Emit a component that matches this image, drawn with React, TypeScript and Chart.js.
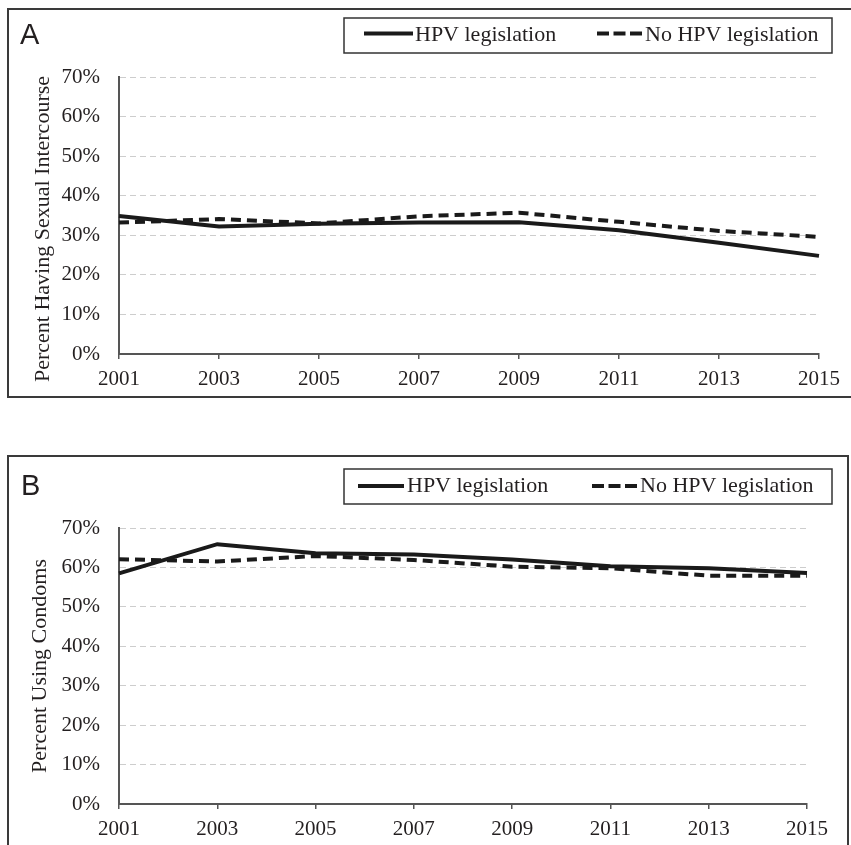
import React, { useEffect, useRef } from 'react';
import { Chart, registerables } from 'chart.js';

Chart.register(...registerables);

// ---- data ----
const years = ['2001', '2003', '2005', '2007', '2009', '2011', '2013', '2015'];
const seriesLabels = ['HPV legislation', 'No HPV legislation'];
const sexHpv = [34.9, 32.2, 32.9, 33.2, 33.3, 31.3, 28.1, 24.8];
const sexNoHpv = [33.2, 34.1, 33.0, 34.8, 35.7, 33.4, 31.1, 29.6];
const condomHpv = [58.5, 65.9, 63.6, 63.3, 62.0, 60.3, 59.8, 58.6];
const condomNoHpv = [62.1, 61.5, 62.9, 61.9, 60.2, 59.8, 57.9, 57.9];
const yMin = 0;
const yMax = 70;
const yStep = 10;

const INK = '#231f20';
const LINE = '#1a1a1a';
const AXIS = '#555555';
const GRID = '#cdcdcd';
const SERIF = "'Liberation Serif', 'Times New Roman', serif";
const SANS = "'Liberation Sans', Arial, sans-serif";

type Decor = {
  letter: string;
  letterX: number;
  letterY: number;
  title: string;
  titleX: number;
  titleY: number;
  box: { x: number; y: number; w: number; h: number };
  lineY: number;
  textY: number;
  items: { x: number; w: number; tx: number; dash: number[] }[];
};

function makeDecor(cfg: Decor) {
  return {
    id: 'panelDecor',
    afterDraw(chart: any) {
      const ctx = chart.ctx as CanvasRenderingContext2D;
      ctx.save();
      ctx.fillStyle = INK;
      ctx.textBaseline = 'alphabetic';
      ctx.textAlign = 'left';
      ctx.font = `29px ${SANS}`;
      ctx.fillText(cfg.letter, cfg.letterX, cfg.letterY);

      ctx.save();
      ctx.translate(cfg.titleX, cfg.titleY);
      ctx.rotate(-Math.PI / 2);
      ctx.font = `22px ${SERIF}`;
      ctx.textAlign = 'center';
      ctx.fillText(cfg.title, 0, 0);
      ctx.restore();

      ctx.strokeStyle = '#333333';
      ctx.lineWidth = 1.5;
      ctx.strokeRect(cfg.box.x, cfg.box.y, cfg.box.w, cfg.box.h);

      chart.data.datasets.forEach((ds: any, i: number) => {
        const it = cfg.items[i];
        ctx.beginPath();
        ctx.setLineDash(it.dash);
        ctx.lineCap = 'butt';
        ctx.lineWidth = ds.borderWidth;
        ctx.strokeStyle = ds.borderColor;
        ctx.moveTo(it.x, cfg.lineY);
        ctx.lineTo(it.x + it.w, cfg.lineY);
        ctx.stroke();
        ctx.setLineDash([]);
        ctx.font = `22px ${SERIF}`;
        ctx.fillStyle = INK;
        ctx.textAlign = 'left';
        ctx.fillText(ds.label, it.tx, cfg.textY);
      });
      ctx.restore();
    },
  };
}

type PanelProps = {
  width: number;
  height: number;
  solid: number[];
  dashed: number[];
  padding: { left: number; right: number; top: number; bottom: number };
  decor: Decor;
};

function Panel({ width, height, solid, dashed, padding, decor }: PanelProps) {
  const ref = useRef<HTMLCanvasElement>(null);
  useEffect(() => {
    if (!ref.current) return;
    const chart = new Chart(ref.current, {
      type: 'line',
      data: {
        labels: years,
        datasets: [
          {
            label: seriesLabels[0],
            data: solid,
            borderColor: LINE,
            borderWidth: 4,
            pointRadius: 0,
            tension: 0,
            fill: false,
          },
          {
            label: seriesLabels[1],
            data: dashed,
            borderColor: LINE,
            borderWidth: 4,
            borderDash: [10, 6],
            pointRadius: 0,
            tension: 0,
            fill: false,
          },
        ],
      },
      options: {
        animation: false,
        responsive: false,
        devicePixelRatio: 1,
        layout: { padding },
        plugins: {
          legend: { display: false },
          title: { display: false },
          tooltip: { enabled: false },
        },
        scales: {
          x: {
            type: 'category',
            offset: false,
            grid: {
              display: true,
              drawOnChartArea: false,
              drawTicks: true,
              tickLength: 5,
              color: AXIS,
              lineWidth: 1.5,
            },
            border: { display: true, color: AXIS, width: 2 },
            ticks: {
              color: INK,
              padding: 8,
              maxRotation: 0,
              autoSkip: false,
              font: { family: SERIF, size: 21 },
            },
            afterFit: (s: any) => {
              s.height = 40;
            },
          },
          y: {
            min: yMin,
            max: yMax,
            grid: {
              display: true,
              drawTicks: false,
              color: GRID,
              lineWidth: 1,
            },
            border: { display: true, color: AXIS, width: 2, dash: [6, 4] },
            ticks: {
              stepSize: yStep,
              color: INK,
              padding: 19,
              font: { family: SERIF, size: 21 },
              callback: (v: any) => `${v}%`,
            },
            afterFit: (s: any) => {
              s.width = 110;
            },
          },
        },
      },
      plugins: [makeDecor(decor)],
    });
    return () => chart.destroy();
  }, []);
  return (
    <canvas
      ref={ref}
      width={width}
      height={height}
      style={{ display: 'block', width, height }}
    />
  );
}

export default function App() {
  return (
    <div
      style={{
        position: 'fixed',
        left: 0,
        top: 0,
        width: 851,
        height: 845,
        overflow: 'hidden',
        background: '#ffffff',
      }}
    >
      <div
        style={{
          position: 'absolute',
          left: 7,
          top: 8,
          width: 846,
          height: 390,
          boxSizing: 'border-box',
          border: '2px solid #3a3a3a',
        }}
      >
        <Panel
          width={842}
          height={386}
          solid={sexHpv}
          dashed={sexNoHpv}
          padding={{ left: 0, right: 32, top: 67, bottom: 2 }}
          decor={{
            letter: 'A',
            letterX: 11,
            letterY: 34,
            title: 'Percent Having Sexual Intercourse',
            titleX: 40,
            titleY: 219,
            box: { x: 335, y: 8, w: 488, h: 35 },
            lineY: 23.5,
            textY: 31,
            items: [
              { x: 355, w: 49, tx: 406, dash: [] },
              { x: 588, w: 45, tx: 636, dash: [12, 4.5] },
            ],
          }}
        />
      </div>
      <div
        style={{
          position: 'absolute',
          left: 7,
          top: 455,
          width: 842,
          height: 402,
          boxSizing: 'border-box',
          border: '2px solid #3a3a3a',
        }}
      >
        <Panel
          width={838}
          height={398}
          solid={condomHpv}
          dashed={condomNoHpv}
          padding={{ left: 0, right: 40, top: 71, bottom: 11 }}
          decor={{
            letter: 'B',
            letterX: 12,
            letterY: 38,
            title: 'Percent Using Condoms',
            titleX: 37,
            titleY: 209,
            box: { x: 335, y: 12, w: 488, h: 35 },
            lineY: 29,
            textY: 35,
            items: [
              { x: 349, w: 46, tx: 398, dash: [] },
              { x: 583, w: 45, tx: 631, dash: [12, 4.5] },
            ],
          }}
        />
      </div>
    </div>
  );
}
